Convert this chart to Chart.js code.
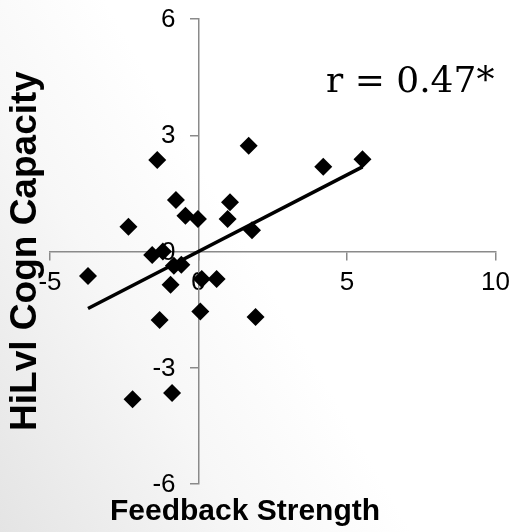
<!DOCTYPE html>
<html><head><meta charset="utf-8">
<script src="https://cdn.jsdelivr.net/npm/chart.js@4"></script>
<style>
html,body{margin:0;padding:0;}
body{width:518px;height:532px;overflow:hidden;background:linear-gradient(60deg,#e4e4e4 0%,#f7f7f7 30%,#ffffff 50%);}
canvas{display:block;}
</style></head><body>
<canvas id="c" width="518" height="532"></canvas>
<script>
// ---- data ----
const feedbackStrength  = [-1.39, -0.76, -0.44, -0.02, 1.06, 0.98, -2.36, -1.56, -1.20, -0.83, -0.58, -3.72,
                           -0.94, 0.11, 0.61, 1.69, 4.20, 5.52, 1.80, 0.06, -1.31, 1.92, -0.89, -2.22];
const hiLvlCognCapacity = [2.36, 1.33, 0.92, 0.84, 1.27, 0.84, 0.64, -0.09, 0.00, -0.37, -0.34, -0.63,
                           -0.86, -0.71, -0.71, 2.73, 2.19, 2.38, 0.55, -1.55, -1.77, -1.69, -3.65, -3.81];
const xTicks = [-5, 0, 5, 10];
const yTicks = [-6, -3, 0, 3, 6];
const xTitle = 'Feedback Strength';
const yTitle = 'HiLvl Cogn Capacity';
const rLabel = 'r = 0.47*';

// ---- derived ----
const points = feedbackStrength.map((x, i) => ({x, y: hiLvlCognCapacity[i]}));
const n = points.length;
const mx = feedbackStrength.reduce((a, b) => a + b, 0) / n;
const my = hiLvlCognCapacity.reduce((a, b) => a + b, 0) / n;
let sxy = 0, sxx = 0;
points.forEach(p => { sxy += (p.x - mx) * (p.y - my); sxx += (p.x - mx) ** 2; });
const slope = sxy / sxx, intercept = my - slope * mx;
const xMin = Math.min(...feedbackStrength), xMax = Math.max(...feedbackStrength);
const trend = [{x: xMin, y: intercept + slope * xMin}, {x: xMax, y: intercept + slope * xMax}];

const AXIS = '#8a8a8a';
const SANS = '"Liberation Sans", Arial, sans-serif';
const textPlugin = {
  id: 'texts',
  afterDraw(chart) {
    const ctx = chart.ctx;
    const ys = chart.scales.y, xs = chart.scales.x;
    ctx.save();
    ctx.fillStyle = '#000';
    // y tick labels
    ctx.font = '26px ' + SANS;
    ctx.textAlign = 'right';
    ctx.textBaseline = 'middle';
    const ax = xs.getPixelForValue(0);
    yTicks.forEach(v => ctx.fillText(String(v), ax - 23, ys.getPixelForValue(v) + 1));
    // x title
    ctx.font = 'bold 30px ' + SANS;
    ctx.textAlign = 'center';
    ctx.textBaseline = 'alphabetic';
    ctx.fillText(xTitle, 245, 520);
    // y title
    ctx.save();
    ctx.translate(36, 251);
    ctx.rotate(-Math.PI / 2);
    ctx.font = 'bold 37px ' + SANS;
    ctx.textAlign = 'center';
    ctx.fillText(yTitle, 0, 0);
    ctx.restore();
    // r label
    ctx.font = '36px "DejaVu Serif", "Liberation Serif", serif';
    ctx.textAlign = 'left';
    ctx.fillText(rLabel, 326, 92);
    ctx.restore();
  }
};

new Chart(document.getElementById('c'), {
  type: 'scatter',
  data: {
    datasets: [
      {type: 'line', data: trend, borderColor: '#000', borderWidth: 3.5, pointRadius: 0, fill: false, order: 0},
      {type: 'scatter', data: points, pointStyle: 'rectRot', pointRadius: 9, pointHoverRadius: 9,
       backgroundColor: '#000', borderColor: '#000', borderWidth: 0, order: 1}
    ]
  },
  options: {
    responsive: false,
    animation: false,
    devicePixelRatio: 1,
    layout: {padding: {left: 50, right: 17.5, top: 19, bottom: 48}},
    plugins: {legend: {display: false}, tooltip: {enabled: false}, title: {display: false}},
    scales: {
      x: {
        type: 'linear', min: -5, max: 10, position: {y: 0},
        afterBuildTicks: s => { s.ticks = xTicks.map(v => ({value: v})); },
        grid: {drawOnChartArea: false, drawTicks: true, tickLength: 8, color: AXIS, lineWidth: 1.5},
        border: {display: true, color: AXIS, width: 1.5},
        ticks: {color: '#000', font: {family: SANS, size: 26}, padding: 8, maxRotation: 0}
      },
      y: {
        type: 'linear', min: -6, max: 6, position: {x: 0},
        afterBuildTicks: s => { s.ticks = yTicks.map(v => ({value: v})); },
        grid: {drawOnChartArea: false, drawTicks: true, tickLength: 8, color: AXIS, lineWidth: 1.5},
        border: {display: true, color: AXIS, width: 1.5},
        ticks: {display: false}
      }
    }
  },
  plugins: [textPlugin]
});
</script>
</body></html>
